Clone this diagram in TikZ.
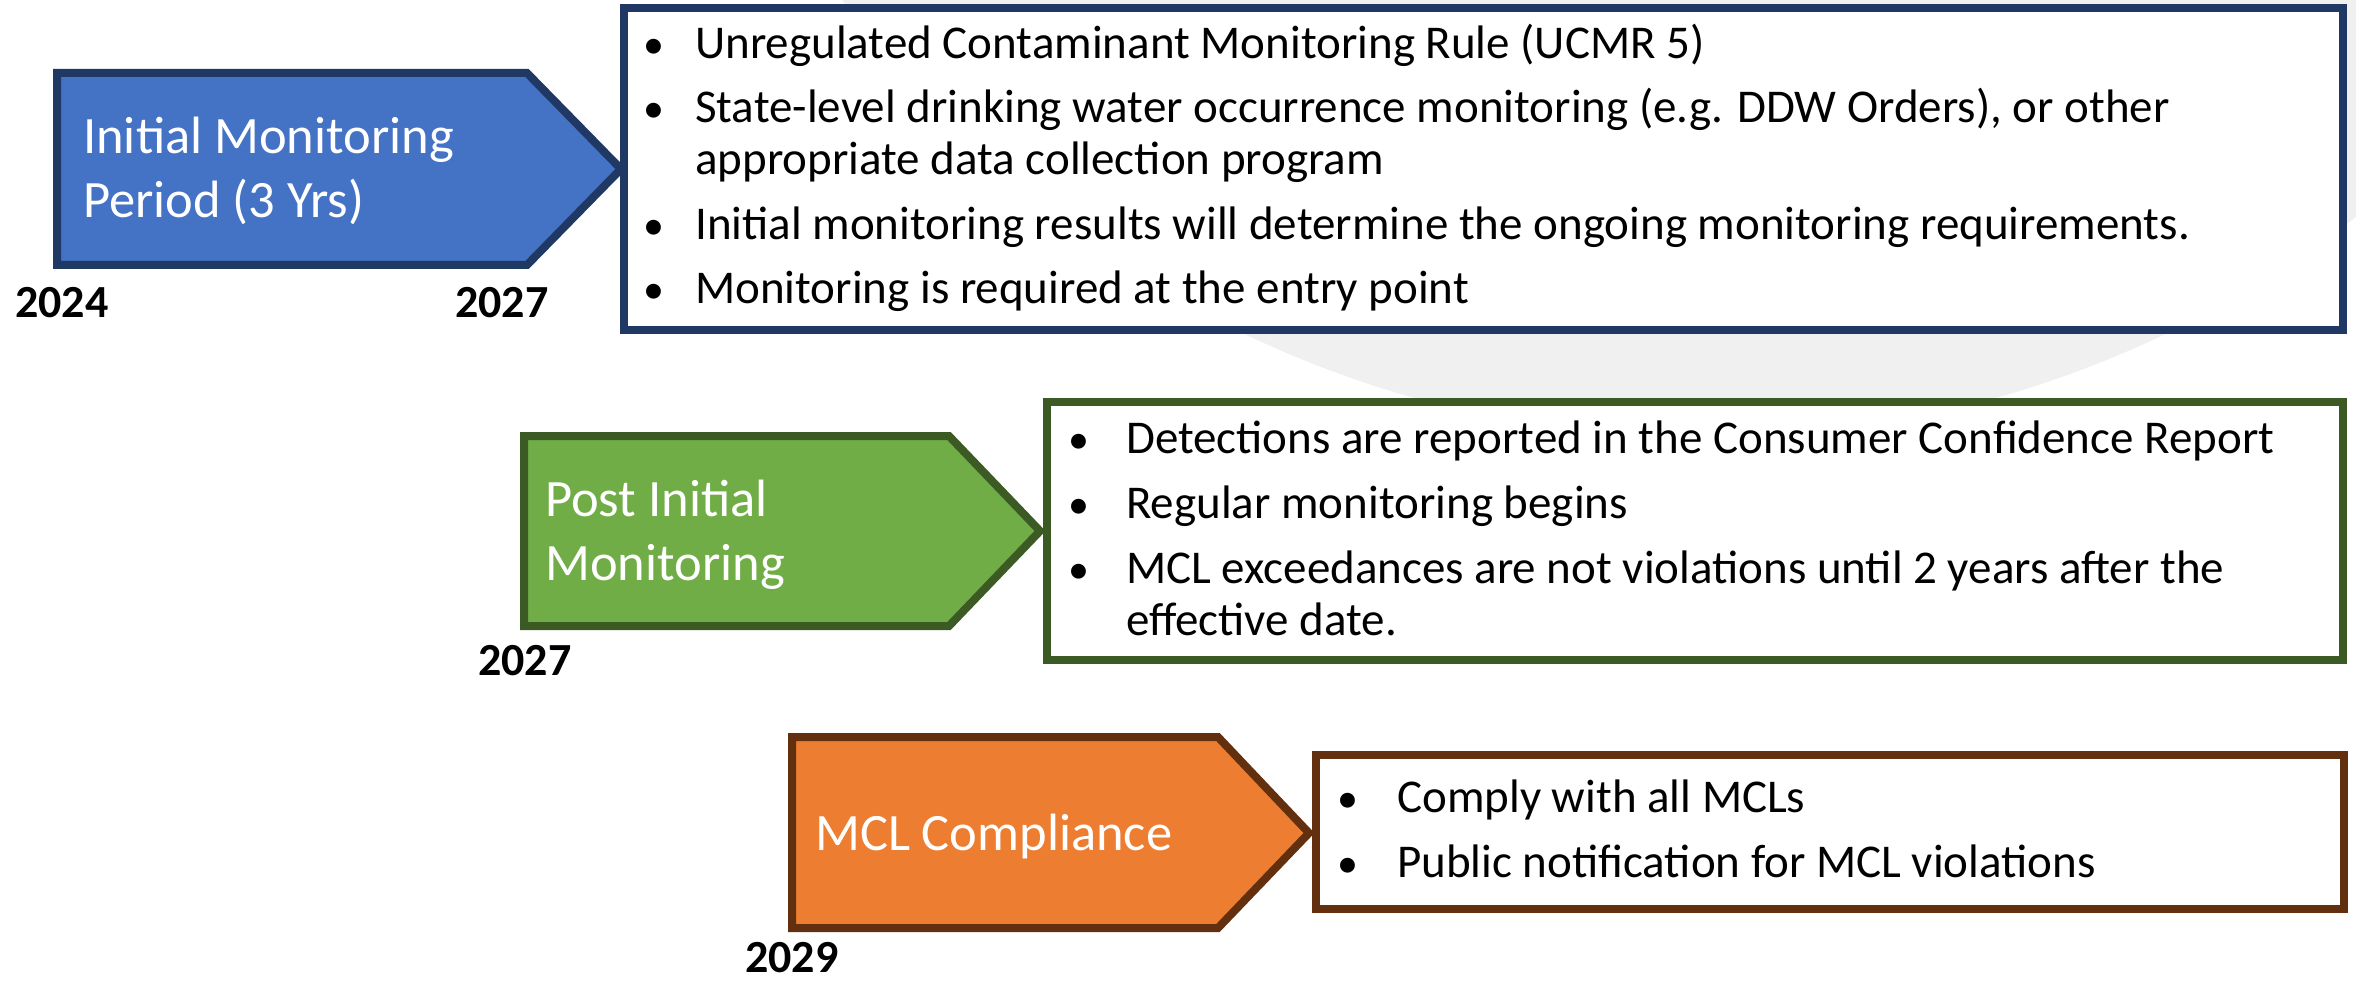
\documentclass[tikz,border=0pt]{standalone}
\usepackage{fontspec}
\setmainfont{Carlito}
\definecolor{bluefill}{HTML}{4472C4}
\definecolor{blueline}{HTML}{1F3864}
\definecolor{greenfill}{HTML}{70AD47}
\definecolor{greenline}{HTML}{3B5A24}
\definecolor{orangefill}{HTML}{ED7D31}
\definecolor{orangeline}{HTML}{63300F}
\definecolor{wmark}{HTML}{F0F0F0}
\tikzset{
  stage/.style={line width=8pt, line join=miter},
  infobox/.style={line width=8pt, fill=white},
  boxtext/.style={anchor=base west, inner sep=0pt, text=black, font=\fontsize{47}{52}\selectfont},
  bul/.style={anchor=base west, inner sep=0pt, text=black, font=\fontsize{42}{52}\selectfont},
  stagetext/.style={anchor=base west, inner sep=0pt, text=white, font=\fontsize{52.5}{64}\selectfont},
  yeartext/.style={anchor=base west, inner sep=0pt, text=black, font=\bfseries\fontsize{46}{50}\selectfont}
}
\begin{document}
\begin{tikzpicture}[x=1pt,y=-1pt]
\useasboundingbox (0,0) rectangle (2356,984);
% faint watermark
\fill[wmark] (1705,-631) circle (1069pt);

% ---- Stage 1 ----
\draw[stage, fill=bluefill, draw=blueline] (57,73) -- (527,73) -- (621,169) -- (527,265) -- (57,265) -- cycle;
\node[stagetext] (s1a) at (83,154) {Initial Monitoring};
\node[stagetext] (s1b) at (83,218) {Period (3 Yrs)};
\node[yeartext] (y2024) at (15,317) {2024};
\node[yeartext] (y2027a) at (455,317) {2027};

\draw[infobox, draw=blueline] (624,8) rectangle (2343,330);
\node[bul] (b1d1) at (643,59) {\textbullet};
\node[boxtext] (b1l1) at (695,59) {Unregulated Contaminant Monitoring Rule (UCMR 5)};
\node[bul] (b1d2) at (643,123) {\textbullet};
\node[boxtext] (b1l2) at (695,123) {State-level drinking water occurrence monitoring (e.g. DDW Orders), or other};
\node[boxtext] (b1l3) at (695,175) {appropriate data collection program};
\node[bul] (b1d4) at (643,240) {\textbullet};
\node[boxtext] (b1l4) at (695,240) {Initial monitoring results will determine the ongoing monitoring requirements.};
\node[bul] (b1d5) at (643,304) {\textbullet};
\node[boxtext] (b1l5) at (695,304) {Monitoring is required at the entry point};

% ---- Stage 2 ----
\draw[stage, fill=greenfill, draw=greenline] (524,436) -- (949,436) -- (1040,531) -- (949,626) -- (524,626) -- cycle;
\node[stagetext] (s2a) at (545,516) {Post Initial};
\node[stagetext] (s2b) at (545,580) {Monitoring};
\node[yeartext] (y2027b) at (478,675) {2027};

\draw[infobox, draw=greenline] (1047,402) rectangle (2343,660);
\node[bul] (b2d1) at (1068,453) {\textbullet};
\node[boxtext] (b2l1) at (1126,453) {Detections are reported in the Consumer Confidence Report};
\node[bul] (b2d2) at (1068,518) {\textbullet};
\node[boxtext] (b2l2) at (1126,518) {Regular monitoring begins};
\node[bul] (b2d3) at (1068,583) {\textbullet};
\node[boxtext] (b2l3) at (1126,583) {MCL exceedances are not violations until 2 years after the};
\node[boxtext] (b2l4) at (1126,635) {effective date.};

% ---- Stage 3 ----
\draw[stage, fill=orangefill, draw=orangeline] (792,737) -- (1218,737) -- (1309,833) -- (1218,928) -- (792,928) -- cycle;
\node[stagetext] (s3a) at (815,850) {MCL Compliance};
\node[yeartext] (y2029) at (745,972) {2029};

\draw[infobox, draw=orangeline] (1316,755) rectangle (2344,909);
\node[bul] (b3d1) at (1337,812) {\textbullet};
\node[boxtext] (b3l1) at (1397,812) {Comply with all MCLs};
\node[bul] (b3d2) at (1337,877) {\textbullet};
\node[boxtext] (b3l2) at (1397,877) {Public notification for MCL violations};
\end{tikzpicture}
\end{document}
